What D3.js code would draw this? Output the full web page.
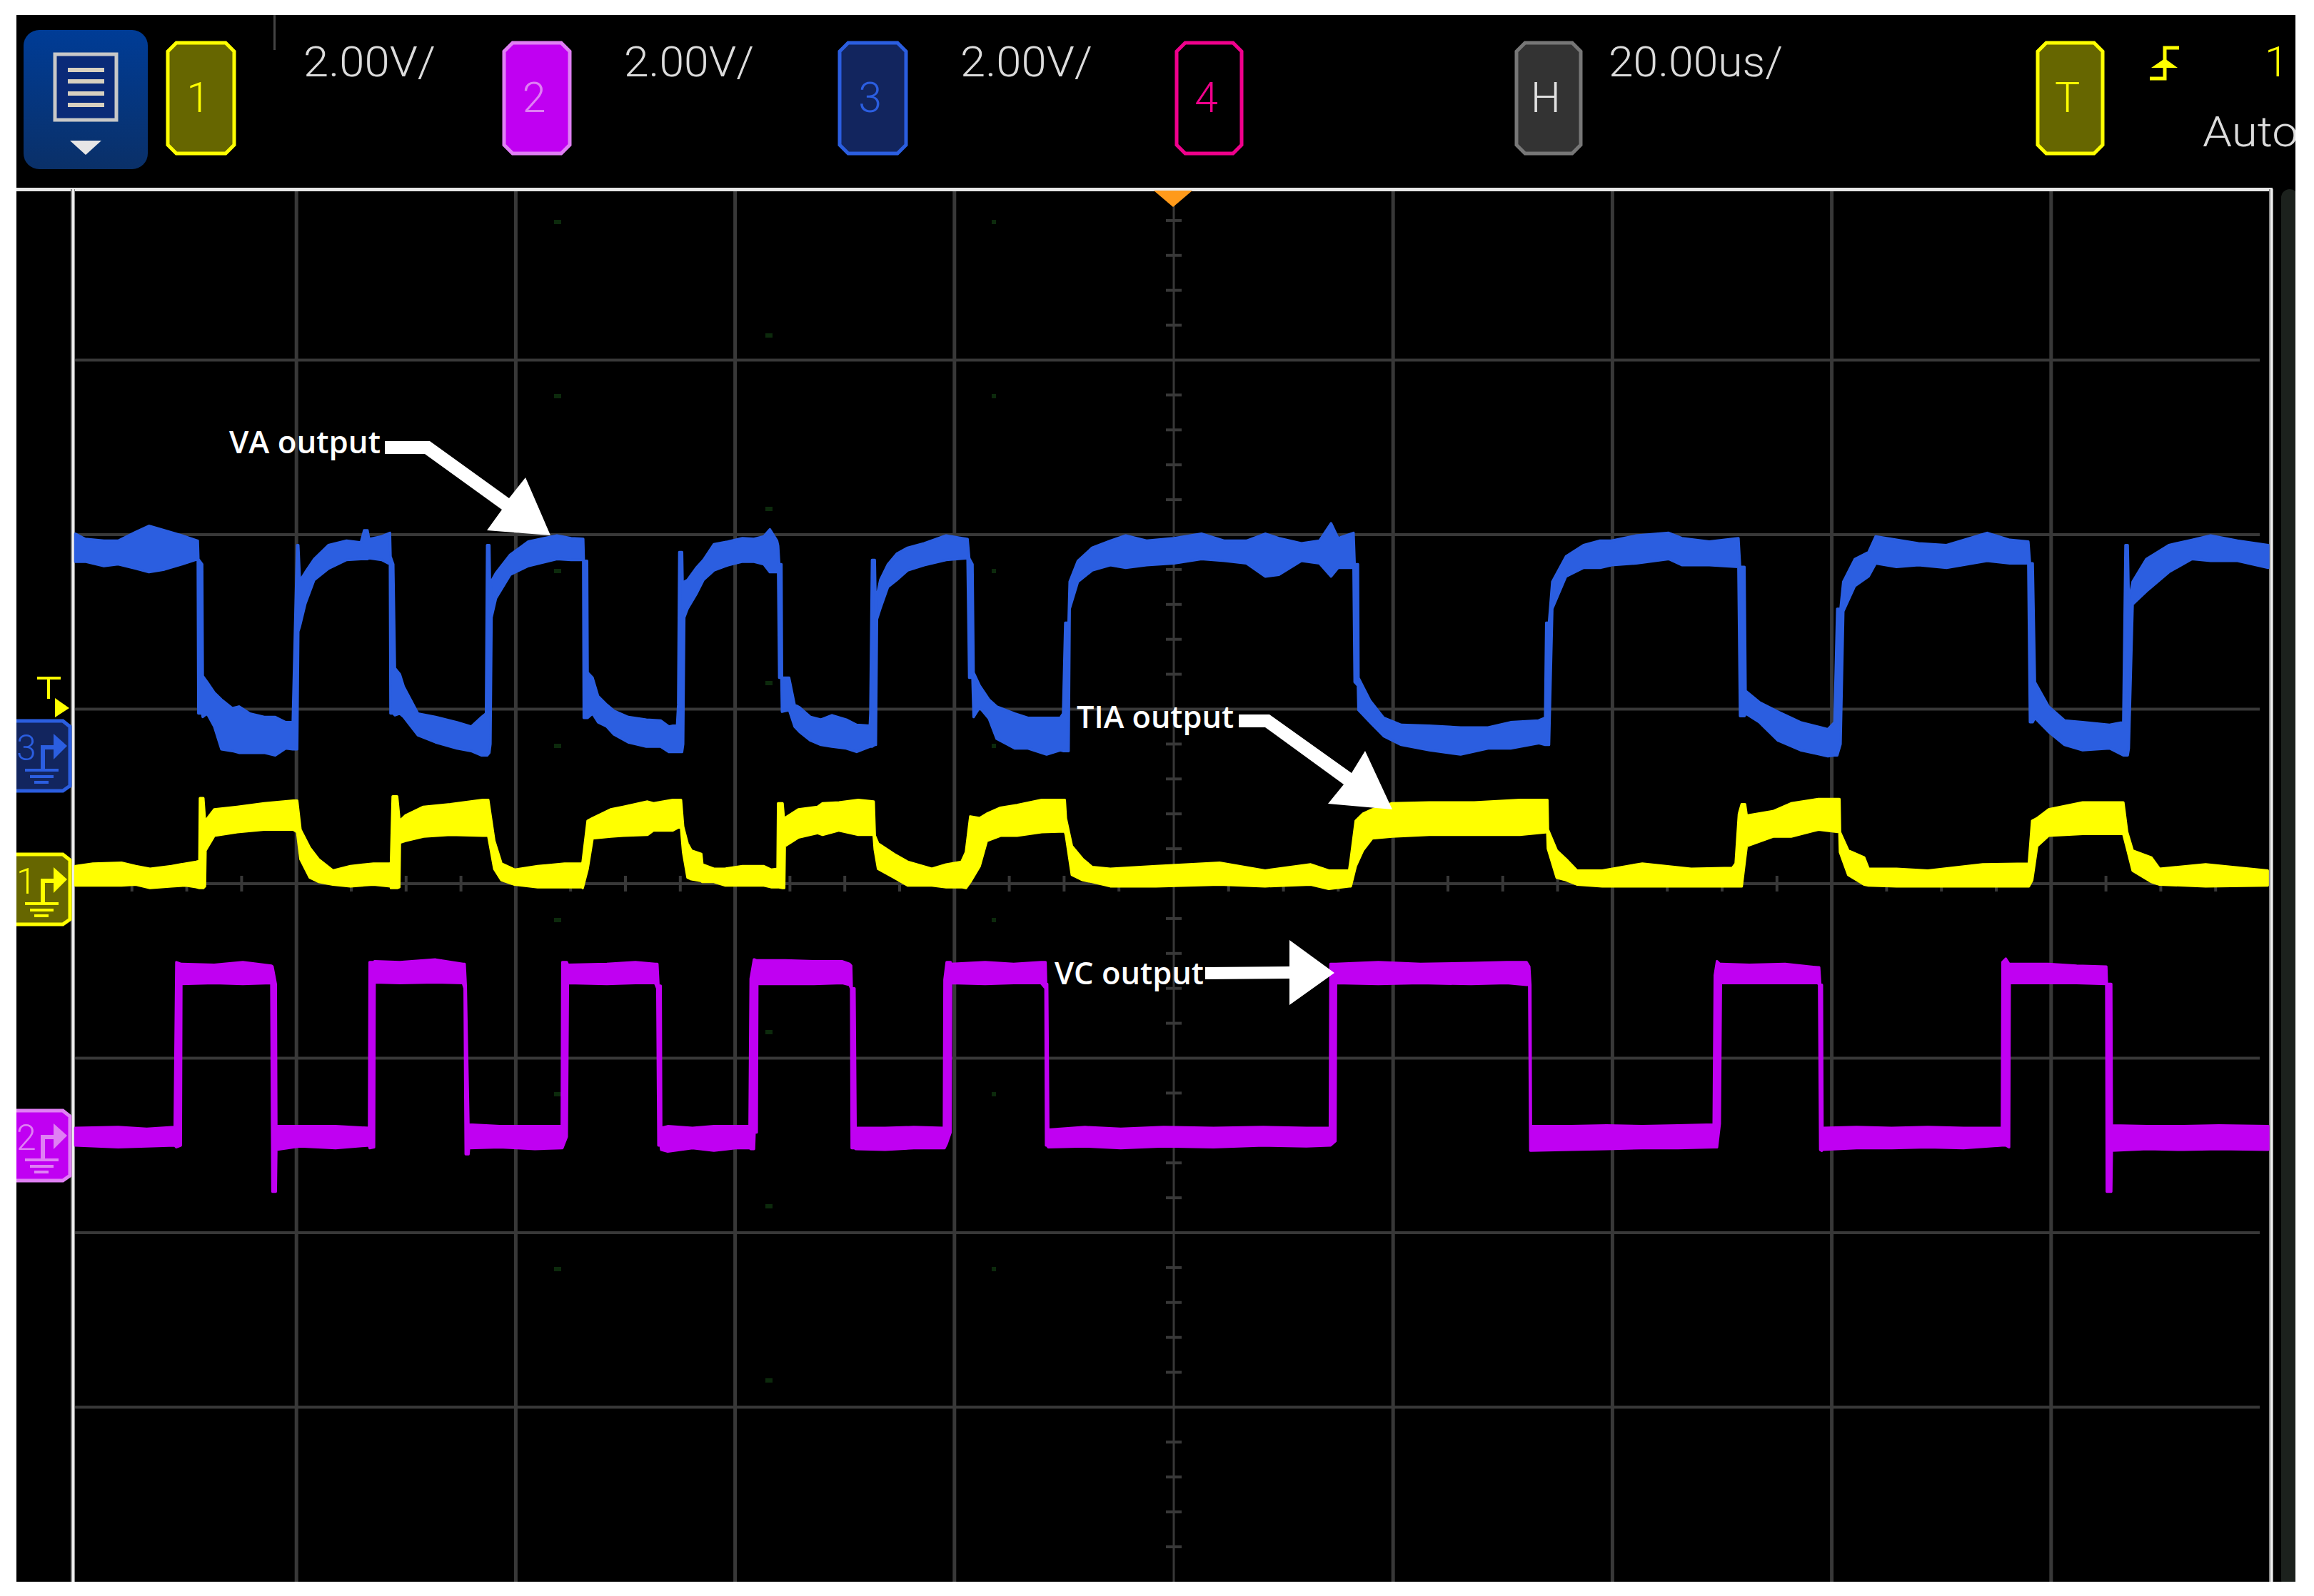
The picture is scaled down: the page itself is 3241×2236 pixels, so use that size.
<!DOCTYPE html>
<html><head><meta charset="utf-8">
<script src="https://cdn.jsdelivr.net/npm/d3@7"></script>
<style>html,body{margin:0;padding:0;background:#fff}svg{display:block}</style>
</head><body><svg id="c" width="3241" height="2236"></svg>
<script>
// Each trace sample: [time in us, upper envelope in V, lower envelope in V]
const vaTrace=[[-99.9,4.01,3.69],[-99,3.95,3.69],[-97.3,3.93,3.64],[-96,3.93,3.66],[-94.4,4.03,3.61],[-93.2,4.1,3.57],[-91.8,4.05,3.6],[-90.2,3.99,3.66],[-88.75,3.93,3.72],[-88.7,3.72,1.95],[-88.35,3.66,1.95],[-88.3,2.38,1.91],[-87.9,2.31,1.95],[-87.25,2.19,1.8],[-86.6,2.11,1.54],[-85.6,2.01,1.52],[-85,2.03,1.5],[-84,1.95,1.5],[-82.7,1.91,1.5],[-81.7,1.91,1.47],[-80.75,1.85,1.55],[-80.1,1.85,1.54],[-79.9,2.89,1.54],[-79.7,3.88,1.54],[-79.6,3.88,2.89],[-79.45,3.47,2.95],[-78.95,3.57,3.21],[-78.15,3.72,3.48],[-76.85,3.88,3.61],[-75.2,3.93,3.71],[-73.9,3.91,3.72],[-73.6,4.05,3.72],[-73.3,4.05,3.72],[-73.15,3.95,3.73],[-72,3.98,3.71],[-71.25,4.02,3.66],[-71.2,3.75,1.95],[-70.95,3.66,1.95],[-70.8,2.47,1.93],[-70.35,2.4,1.95],[-70,2.26,1.91],[-68.7,1.95,1.7],[-67.1,1.91,1.62],[-65.15,1.85,1.55],[-63.85,1.8,1.52],[-62.9,1.91,1.47],[-62.5,1.95,1.47],[-62.4,3.88,1.47],[-62.2,3.88,1.5],[-62.1,3.04,1.6],[-62,3.47,3.05],[-61.6,3.56,3.27],[-60.3,3.77,3.54],[-58.65,3.92,3.64],[-56.05,3.99,3.72],[-54.75,3.96,3.71],[-53.65,3.95,3.71],[-53.6,3.7,1.9],[-53.3,3.7,1.9],[-53.25,2.42,1.9],[-52.8,2.36,1.95],[-52.3,2.15,1.85],[-51.5,2.05,1.8],[-50.85,1.98,1.71],[-49.55,1.91,1.62],[-47.9,1.88,1.57],[-46.6,1.87,1.57],[-45.85,1.8,1.51],[-45.1,1.82,1.51],[-45,2.05,1.51],[-44.9,3.8,1.51],[-44.65,3.8,1.51],[-44.55,3.05,1.6],[-44.45,3.46,3.05],[-44.15,3.48,3.15],[-43.35,3.62,3.32],[-42.7,3.71,3.48],[-41.75,3.89,3.59],[-40.45,3.92,3.65],[-39.15,3.96,3.69],[-38.15,3.95,3.69],[-37.2,3.98,3.66],[-36.65,4.06,3.57],[-36,3.93,3.57],[-35.9,3.87,3.57],[-35.8,3.66,2.36],[-35.6,3.66,2.36],[-35.55,2.36,1.97],[-34.9,2.36,1.99],[-34.4,2.05,1.8],[-33.95,2.02,1.74],[-32.95,1.91,1.64],[-32,1.88,1.59],[-31,1.93,1.57],[-29.7,1.88,1.55],[-28.75,1.82,1.51],[-27.55,1.81,1.57],[-27.5,1.95,1.57],[-27.35,3.71,1.57],[-27.1,3.71,1.59],[-27,3.03,1.59],[-26.9,3.3,3.03],[-26.6,3.48,3.15],[-25.9,3.66,3.4],[-25.1,3.78,3.48],[-24.1,3.85,3.59],[-22.6,3.9,3.65],[-20.6,3.99,3.71],[-18.65,3.95,3.73],[-18.5,3.73,2.36],[-18.2,3.66,2.36],[-18.1,2.42,1.91],[-17.55,2.27,2.02],[-16.7,2.11,1.89],[-16,2.03,1.66],[-14.35,1.95,1.55],[-13.15,1.9,1.55],[-11.45,1.9,1.48],[-10.2,1.9,1.53],[-9.95,1.95,1.52],[-9.75,2.99,1.52],[-9.45,2.99,1.52],[-9.35,3.46,3.15],[-8.6,3.7,3.46],[-7.3,3.85,3.59],[-5.65,3.93,3.65],[-4.25,3.99,3.62],[-2.35,3.93,3.65],[0.15,3.96,3.67],[2.65,4.01,3.72],[4.75,3.93,3.7],[6.75,3.93,3.67],[8.45,4.01,3.52],[9.7,3.96,3.54],[11.75,3.9,3.7],[13.4,3.93,3.67],[14.45,4.13,3.52],[15.1,3.96,3.62],[16.5,4.02,3.62],[16.6,3.66,2.31],[16.9,3.66,2.27],[16.95,2.36,1.99],[18,2.1,1.85],[19.25,1.9,1.69],[20.85,1.82,1.59],[23.4,1.81,1.53],[26.25,1.79,1.48],[28.75,1.79,1.55],[30.8,1.85,1.55],[33.35,1.87,1.61],[33.95,1.9,1.59],[34.05,2.99,1.59],[34.3,2.99,1.59],[34.6,3.46,3.15],[35.85,3.75,3.52],[37.45,3.88,3.62],[38.95,3.93,3.62],[40,3.93,3.65],[42.25,3.99,3.67],[45.2,4.02,3.72],[46.4,3.96,3.65],[48.9,3.92,3.65],[51.55,3.96,3.63],[51.7,3.63,1.92],[52.1,3.63,1.92],[52.2,2.21,1.95],[53.45,2.08,1.85],[55.15,1.97,1.64],[57.2,1.85,1.53],[59.7,1.77,1.46],[60.3,1.85,1.47],[60.55,3.15,1.47],[60.85,3.15,1.6],[61.1,3.46,3.12],[62.15,3.72,3.41],[63.4,3.8,3.52],[64.05,3.98,3.67],[65.95,3.94,3.63],[67.95,3.9,3.65],[70.5,3.88,3.62],[74.2,4.02,3.7],[76.25,3.94,3.67],[77.95,3.92,3.67],[78.1,3.67,1.85],[78.35,3.67,1.85],[78.55,2.31,1.9],[79.8,2.03,1.74],[81.25,1.87,1.59],[82.9,1.85,1.53],[85.35,1.82,1.55],[86.6,1.85,1.47],[86.8,3.88,1.47],[87,3.88,1.47],[87.1,3.23,1.55],[87.45,3.46,3.2],[88.7,3.72,3.35],[90.75,3.88,3.57],[92.85,3.94,3.72],[94.55,3.99,3.7],[97,3.93,3.7],[99.8,3.88,3.62]];

const tiaTrace=[[-99.9,0.2,-0.02],[-98.3,0.23,-0.02],[-95.7,0.24,-0.02],[-94.4,0.2,-0.01],[-93.1,0.17,-0.05],[-91.15,0.2,-0.03],[-89.85,0.23,-0.02],[-88.9,0.25,-0.04],[-88.6,0.26,-0.05],[-88.55,0.98,-0.05],[-88.25,0.98,-0.05],[-88.1,0.72,-0.03],[-88.05,0.72,0.38],[-87.25,0.85,0.55],[-85.15,0.88,0.59],[-82.7,0.92,0.62],[-80.05,0.95,0.62],[-79.7,0.95,0.59],[-79.4,0.62,0.28],[-78.55,0.41,0.07],[-77.75,0.28,0.02],[-76.45,0.15,-0.01],[-74.85,0.2,-0.03],[-72.75,0.23,-0.01],[-71.2,0.23,-0.03],[-71.15,0.25,-0.05],[-71,1,-0.05],[-70.6,1,-0.05],[-70.4,0.74,-0.04],[-70.35,0.72,0.47],[-69.85,0.78,0.49],[-68.2,0.88,0.54],[-65.75,0.91,0.56],[-62.8,0.96,0.55],[-62.3,0.96,0.55],[-61.75,0.49,0.17],[-61.1,0.23,0.04],[-59.9,0.16,-0.01],[-57.8,0.2,-0.04],[-55.35,0.23,-0.04],[-53.75,0.23,-0.04],[-53.7,0.25,-0.05],[-53.25,0.72,0.17],[-52.8,0.75,0.52],[-51.15,0.85,0.54],[-50,0.88,0.55],[-47.8,0.94,0.56],[-47.25,0.92,0.61],[-45.5,0.96,0.61],[-44.75,0.96,0.66],[-44.55,0.65,0.36],[-44.15,0.46,0.07],[-43.8,0.38,0.05],[-42.9,0.34,0.03],[-42.8,0.22,0.02],[-41.75,0.17,0.02],[-40.75,0.17,-0.02],[-39.15,0.2,-0.02],[-37.2,0.2,-0.02],[-36.55,0.16,-0.04],[-35.95,0.17,-0.04],[-35.9,0.92,-0.04],[-35.5,0.92,-0.05],[-35.35,0.7,-0.05],[-35.3,0.75,0.43],[-34.05,0.85,0.53],[-32.3,0.88,0.58],[-31.85,0.92,0.56],[-30.35,0.93,0.61],[-28.6,0.96,0.56],[-27.2,0.94,0.56],[-27.1,0.55,0.39],[-26.8,0.46,0.17],[-25.35,0.34,0.07],[-24.1,0.25,-0.02],[-21.9,0.17,-0.02],[-20.6,0.22,-0.04],[-19.2,0.25,-0.04],[-18.8,0.36,-0.05],[-18.4,0.77,0.02],[-17.55,0.75,0.2],[-16.9,0.8,0.49],[-15.65,0.87,0.55],[-14.15,0.9,0.55],[-11.9,0.96,0.59],[-9.8,0.96,0.6],[-9.7,0.75,0.56],[-9.15,0.43,0.1],[-8.15,0.28,0.04],[-7.3,0.19,0.02],[-5.65,0.17,-0.03],[-1.5,0.2,-0.03],[4.3,0.24,-0.01],[8.45,0.15,-0.03],[12.6,0.22,-0.01],[14.25,0.15,-0.06],[16.1,0.15,-0.03],[16.25,0.28,-0.03],[16.7,0.72,0.2],[17.35,0.8,0.38],[18.2,0.85,0.52],[20,0.92,0.54],[23.4,0.93,0.56],[27.5,0.93,0.56],[31.65,0.96,0.56],[34.15,0.96,0.59],[34.2,0.62,0.4],[35,0.38,0.07],[35.85,0.28,0.04],[36.85,0.15,-0.01],[39.15,0.15,-0.03],[42.8,0.23,-0.03],[47.25,0.17,-0.03],[51,0.18,-0.03],[51.3,0.23,-0.03],[51.6,0.8,-0.03],[51.85,0.91,-0.03],[52.15,0.91,0.28],[52.3,0.78,0.43],[54.7,0.83,0.54],[56.35,0.92,0.54],[58.85,0.97,0.62],[60.75,0.97,0.59],[60.8,0.59,0.36],[61.55,0.38,0.1],[63,0.3,-0.01],[63.4,0.17,-0.02],[65.95,0.17,-0.03],[68.8,0.15,-0.03],[73.8,0.22,-0.03],[78,0.23,-0.03],[78.3,0.72,0.04],[78.75,0.75,0.43],[79.8,0.85,0.55],[82.9,0.93,0.57],[86.6,0.93,0.57],[86.95,0.59,0.4],[87.45,0.38,0.15],[89.15,0.3,0.02],[89.9,0.17,-0.01],[94.1,0.22,-0.03],[99.75,0.15,-0.02]];

const vcTrace=[[-99.9,-2.8,-3],[-96,-2.79,-3.02],[-93.4,-2.81,-3.01],[-90.85,-2.79,-3],[-90.7,-0.9,-3.02],[-90.3,-0.92,-3],[-90.25,-0.92,-1.15],[-87.25,-0.93,-1.14],[-84.65,-0.9,-1.15],[-82.05,-0.94,-1.14],[-81.95,-0.95,-3.53],[-81.65,-1.15,-3.53],[-81.6,-2.78,-3.05],[-79.45,-2.78,-3.01],[-76.2,-2.78,-3.03],[-73.15,-2.8,-3],[-73.1,-0.9,-3.03],[-72.7,-0.9,-3.02],[-72.65,-0.89,-1.13],[-70.35,-0.9,-1.14],[-67.1,-0.87,-1.13],[-64.6,-0.92,-1.14],[-64.45,-0.92,-1.2],[-64.35,-1.17,-3.1],[-64.1,-2.8,-3.1],[-64.05,-2.76,-3.03],[-61.25,-2.78,-3.02],[-58.05,-2.78,-3.04],[-55.6,-2.78,-3.03],[-55.55,-0.9,-3.03],[-55.15,-0.9,-2.9],[-55.05,-0.93,-1.14],[-51.5,-0.92,-1.15],[-48.9,-0.9,-1.14],[-47.1,-0.92,-1.14],[-46.9,-0.92,-1.2],[-46.8,-1.17,-3],[-46.6,-1.17,-3],[-46.55,-2.8,-3.05],[-45.95,-2.78,-3.07],[-43.7,-2.8,-3.03],[-41.75,-2.78,-3.06],[-39.8,-2.78,-3.03],[-38.5,-2.78,-3.03],[-38.4,-1.09,-3.04],[-38.1,-0.87,-3.04],[-38.05,-0.87,-2.85],[-37.85,-0.88,-2.85],[-37.8,-0.88,-1.15],[-35.25,-0.88,-1.15],[-32.65,-0.89,-1.15],[-30.05,-0.89,-1.14],[-29.4,-0.92,-1.16],[-29.25,-0.94,-1.2],[-29.2,-1.2,-3.03],[-28.95,-1.2,-3.03],[-28.85,-2.8,-3.04],[-26.15,-2.8,-3.05],[-23.55,-2.79,-3.03],[-20.8,-2.8,-3.03],[-20.75,-1.1,-3.03],[-20.55,-0.9,-2.98],[-20.2,-0.9,-2.85],[-20.15,-0.92,-1.14],[-17.05,-0.9,-1.15],[-14.45,-0.92,-1.14],[-11.95,-0.9,-1.14],[-11.55,-0.9,-1.2],[-11.5,-1.15,-3],[-11.4,-1.15,-3],[-11.3,-2.82,-3.02],[-7.95,-2.79,-3.01],[-4.7,-2.81,-3.03],[-0.8,-2.79,-3.01],[3.75,-2.8,-3.02],[8.3,-2.79,-3],[12.2,-2.8,-3.01],[14.35,-2.8,-3],[14.4,-0.92,-3],[14.85,-0.92,-2.95],[14.9,-0.92,-1.14],[18.75,-0.9,-1.15],[22.6,-0.92,-1.14],[27.2,-0.91,-1.15],[30.45,-0.9,-1.14],[32.25,-0.9,-1.16],[32.5,-0.95,-1.16],[32.6,-1.16,-3.06],[32.65,-2.78,-3.06],[36.3,-2.78,-3.05],[39.55,-2.77,-3.04],[42.8,-2.78,-3.03],[46.05,-2.77,-3.03],[49.3,-2.76,-3.02],[49.4,-1.05,-3.02],[49.6,-0.89,-3.02],[49.85,-0.92,-2.75],[49.95,-0.92,-1.14],[52.55,-0.93,-1.14],[55.8,-0.92,-1.14],[58.8,-0.96,-1.14],[58.9,-0.96,-1.16],[59,-1.16,-3.05],[59.15,-1.16,-3.06],[59.2,-2.8,-3.05],[62.3,-2.79,-3.03],[65.5,-2.8,-3.03],[68.8,-2.79,-3.02],[72.05,-2.8,-3.03],[75.55,-2.8,-3],[75.6,-0.9,-3],[75.9,-0.86,-3],[76.2,-0.92,-3.02],[76.25,-0.92,-1.14],[79.75,-0.92,-1.14],[82.35,-0.94,-1.14],[85.05,-0.95,-1.15],[85.1,-1.15,-3.53],[85.5,-1.15,-3.53],[85.55,-2.77,-3.06],[88.8,-2.78,-3.04],[92.05,-2.78,-3.05],[95.3,-2.77,-3.04],[99.8,-2.78,-3.05]];

const traceNames=["VA output","TIA output","VC output"];
const channelScales=["2.00V/","2.00V/","2.00V/"];
const timebase="20.00us/";

const svg=d3.select("#c");
const LEFT=23,TOP=21,RIGHT=3215,BOTTOM=2216;
const x=d3.scaleLinear().domain([-100,100]).range([104,3180]);
const y=d3.scaleLinear().domain([-8,8]).range([2216,260]);
const divX=d3.scaleLinear().domain([-5,5]).range([108,3180]);
const divY=d3.scaleLinear().domain([-4,4]).range([2216,260]);
const defs=svg.append("defs");
defs.append("clipPath").attr("id","screen").append("rect").attr("x",LEFT).attr("y",TOP).attr("width",RIGHT-LEFT).attr("height",BOTTOM-TOP);
const grad=defs.append("linearGradient").attr("id","menu").attr("x1",0).attr("x2",0).attr("y1",0).attr("y2",1);
grad.append("stop").attr("offset","0").attr("stop-color","#003c96");
grad.append("stop").attr("offset","1").attr("stop-color","#0a3068");

const root=svg.append("g").attr("clip-path","url(#screen)");
root.append("rect").attr("x",LEFT).attr("y",TOP).attr("width",RIGHT-LEFT).attr("height",BOTTOM-TOP).attr("fill","#000");

// graticule
const g=root.append("g").attr("stroke","#383838").attr("fill","none");
d3.range(-4,5).forEach(k=>g.append("line").attr("x1",divX(k)).attr("x2",divX(k)).attr("y1",265).attr("y2",BOTTOM).attr("stroke-width",k?5:3));
d3.range(-3,4).forEach(k=>g.append("line").attr("x1",105).attr("x2",3165).attr("y1",divY(k)).attr("y2",divY(k)).attr("stroke-width",4));
d3.range(-4,4,0.2).forEach(k=>{ if(Math.abs(k%1)>0.01&&Math.abs(k%1)<0.99) g.append("line").attr("x1",divX(0)-11).attr("x2",divX(0)+11).attr("y1",divY(k)).attr("y2",divY(k)).attr("stroke-width",4);});
d3.range(-5,5,0.25).forEach(k=>{ if(k%1!==0) g.append("line").attr("x1",divX(k)).attr("x2",divX(k)).attr("y1",divY(0)-11).attr("y2",divY(0)+11).attr("stroke-width",4);});
// faint graticule specks
const specks=root.append("g").attr("fill","#0c2a0c");
[[776,[311,555,800,1045,1289,1533,1778]],[1072,[470,713,957,1446,1690,1934]],[1389,[311,555,800,1045,1289,1533,1778]]].forEach(([sx,ys])=>ys.forEach(sy=>specks.append("rect").attr("x",sx).attr("y",sy-3).attr("width",sx===1389?6:10).attr("height",6)));

// borders
root.append("rect").attr("x",3195).attr("y",265).attr("width",24).attr("height",1960).attr("rx",12).attr("fill","#1c211d");
root.append("rect").attr("x",LEFT).attr("y",263).attr("width",3160).attr("height",5).attr("fill","#e6e6e6");
[100,3179].forEach(bx=>{root.append("rect").attr("x",bx-1).attr("y",265).attr("width",6).attr("height",1951).attr("fill","#888");root.append("rect").attr("x",bx+1).attr("y",265).attr("width",3).attr("height",1951).attr("fill","#eee");});
root.append("rect").attr("x",383).attr("y",TOP).attr("width",3).attr("height",49).attr("fill","#444");
root.append("path").attr("d","M1616,267H1670L1643,290Z").attr("fill","#ff9a1a");

// traces
const area=d3.area().x(d=>x(d[0])).y0(d=>y(d[2])).y1(d=>y(d[1]));
[[vaTrace,"#2b5ee0"],[tiaTrace,"#ffff00"],[vcTrace,"#c000f2"]].forEach(([data,color])=>
  root.append("path").datum(data).attr("d",area).attr("fill",color).attr("stroke",color).attr("stroke-width",3.5).attr("stroke-linejoin","round"));

// top bar
function chamfer(x0,y0,x1,y1,c){return `M${x0+c},${y0}H${x1-c}L${x1},${y0+c}V${y1-c}L${x1-c},${y1}H${x0+c}L${x0},${y1-c}V${y0+c}Z`;}
const thin="Roboto, 'Liberation Sans', sans-serif";
function label(t,px,py,fill,len,anchor){const s=root.append("text").attr("x",px).attr("y",py).attr("font-family",thin).attr("font-weight",300).attr("font-size",59).attr("fill",fill).attr("text-anchor",anchor||"start").text(t);if(len)s.attr("textLength",len).attr("lengthAdjust","spacingAndGlyphs");return s;}
const buttons=[["1",233,330,"#666600","#ffff00","#ffff00"],["2",704,800,"#c000f2","#e080f4","#e080f4"],["3",1174,1271,"#12255e","#2b5ee0","#2b5ee0"],["4",1646,1741,"#000","#f0008c","#f0008c"],["H",2122,2216,"#333","#777","#e0e0e0"],["T",2852,2947,"#666600","#ffff00","#ffff00"]];
buttons.forEach(([t,x0,x1,f,s,c])=>{root.append("path").attr("d",chamfer(x0+2,60,x1-2,215,12)).attr("fill",f).attr("stroke",s).attr("stroke-width",5);label(t,(x0+x1)/2-4,157,c,null,"middle");});
label(channelScales[0],425,107,"#dcdcdc",185);label(channelScales[1],874,107,"#dcdcdc",182);label(channelScales[2],1345,107,"#dcdcdc",185);
label(timebase,2253,107,"#dcdcdc",244);
label("1",3172,107,"#ffff00");
label("Auto",3085,205,"#dcdcdc",134);
// menu button
root.append("rect").attr("x",33).attr("y",42).attr("width",174).attr("height",195).attr("rx",22).attr("fill","url(#menu)");
root.append("rect").attr("x",77).attr("y",76).attr("width",86).attr("height",92).attr("fill","#0a2a78").attr("stroke","#c8c8c8").attr("stroke-width",5);
[98,114,131,147].forEach(by=>root.append("rect").attr("x",95).attr("y",by-3).attr("width",51).attr("height",6).attr("fill","#d8d0c0"));
root.append("path").attr("d","M98,197H142L120,217Z").attr("fill","#e6e6e6");
// trigger slope glyph
root.append("path").attr("d","M3052,67H3032V110H3011").attr("fill","none").attr("stroke","#ffff00").attr("stroke-width",5);
root.append("path").attr("d","M3032,82L3013,95H3050Z").attr("fill","#ffff00");

// ground markers
const markers=[["3",1045,"#12255e","#2b5ee0","#2b5ee0"],["1",1232,"#666600","#ffff00","#ffff00"],["2",1591,"#c000f2","#e080f4","#e080f4"]];
markers.forEach(([t,cy,f,s,c])=>{
  root.append("path").attr("d",`M10,${cy-35}H88L98,${cy-27}V${cy+56}L88,${cy+63}H10Z`).attr("fill",f).attr("stroke",s).attr("stroke-width",5);
  root.append("text").attr("x",23).attr("y",cy+20).attr("font-family",thin).attr("font-weight",300).attr("font-size",50).attr("fill",c).text(t);
  root.append("path").attr("d",`M60,${cy+34}V${cy+2}H76`).attr("fill","none").attr("stroke",c).attr("stroke-width",6);
  root.append("path").attr("d",`M75,${cy-17}L94,${cy}L75,${cy+19}Z`).attr("fill",c);
  [[35,82,34],[42,75,43],[48,68,51]].forEach(([a,b,d])=>root.append("line").attr("x1",a).attr("x2",b).attr("y1",cy+d).attr("y2",cy+d).attr("stroke",c).attr("stroke-width",4));
});
// trigger level marker
root.append("path").attr("d","M52,950H85M68,950V979").attr("stroke","#ffff00").attr("stroke-width",4).attr("fill","none");
root.append("path").attr("d","M77,978L97,992L77,1005Z").attr("fill","#ffff00");

// annotations
const arrows=[
 [[539,618],[602,618],[713,698],[736,669],[771,750],[682,743],[703,714],[595,636],[539,636]],
 [[1735,1001],[1778,1001],[1893,1083],[1912,1052],[1950,1134],[1860,1126],[1882,1099],[1772,1019],[1735,1019]],
 [[1688,1355],[1806,1354],[1806,1317],[1869,1363],[1806,1408],[1806,1371],[1688,1372]]];
arrows.forEach(p=>root.append("polygon").attr("points",p.join(" ")).attr("fill","#fff"));
[[321,635,212],[1508,1020,220],[1477,1379,209]].forEach((a,i)=>
 root.append("text").attr("x",a[0]).attr("y",a[1]).attr("font-family","'Open Sans',sans-serif").attr("font-weight",600).attr("font-size",44).attr("fill","#fff").attr("textLength",a[2]).attr("lengthAdjust","spacingAndGlyphs").text(traceNames[i]));
</script></body></html>
